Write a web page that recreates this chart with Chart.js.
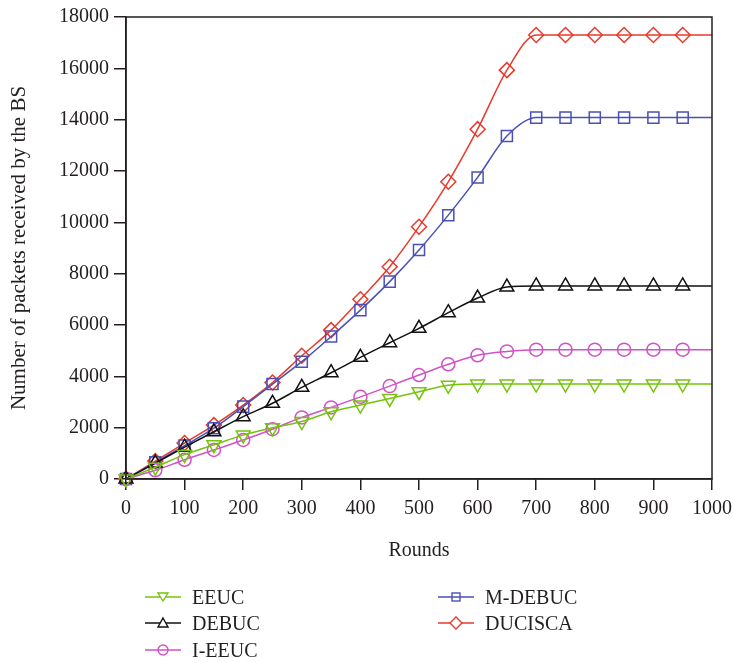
<!DOCTYPE html>
<html lang="en">
<head>
  <meta charset="UTF-8" />
  <title>Packets received by the BS</title>
  <script src="https://cdn.jsdelivr.net/npm/chart.js"></script>
  <style>
    body { margin: 0; background: #fff; }
    #wrap { position: relative; width: 733px; height: 663px; }
    #legend { position: absolute; left: 0; top: 0; width: 733px; height: 663px; pointer-events: none;
      font-family: "Liberation Serif", "DejaVu Serif", serif; font-size: 20px; color: #231f20; }
    .item { position: absolute; display: flex; align-items: center; height: 24px; }
    .item svg { margin-right: 11px; }
  </style>
</head>
<body>
  <div id="wrap">
    <canvas id="chart" width="733" height="663"></canvas>
    <div id="legend"></div>
  </div>

  <script>
    // x positions (rounds) and tick labels
    const rounds = [0, 50, 100, 150, 200, 250, 300, 350, 400, 450, 500, 550, 600, 650, 700, 750, 800, 850, 900, 950, 1000];
    const xTicks = [0, 100, 200, 300, 400, 500, 600, 700, 800, 900, 1000];
    const yTicks = [0, 2000, 4000, 6000, 8000, 10000, 12000, 14000, 16000, 18000];

    // series values
    const eeuc    = [0, 460, 950, 1330, 1710, 2000, 2240, 2620, 2880, 3140, 3400, 3650, 3700, 3700, 3700, 3700, 3700, 3700, 3700, 3700, 3700];
    const debuc   = [0, 620, 1240, 1840, 2430, 2950, 3570, 4140, 4740, 5310, 5870, 6480, 7050, 7480, 7520, 7520, 7520, 7520, 7520, 7520, 7520];
    const ieeuc   = [0, 340, 750, 1130, 1520, 1940, 2400, 2790, 3200, 3620, 4050, 4470, 4820, 4970, 5040, 5040, 5040, 5040, 5040, 5040, 5040];
    const mdebuc  = [0, 650, 1300, 1980, 2820, 3700, 4570, 5550, 6580, 7690, 8920, 10280, 11750, 13360, 14080, 14080, 14080, 14080, 14080, 14080, 14080];
    const ducisca = [0, 700, 1400, 2100, 2880, 3760, 4800, 5800, 7000, 8270, 9830, 11580, 13630, 15930, 17300, 17300, 17300, 17300, 17300, 17300, 17300];

    const font = "'Liberation Serif', 'DejaVu Serif', serif";
    const ink = '#231f20';

    const series = [
      { label: 'EEUC',    data: eeuc,    color: '#74c40c', style: 'triangle', rot: 180, r: 8 },
      { label: 'DEBUC',   data: debuc,   color: '#111111', style: 'triangle', rot: 0,   r: 8 },
      { label: 'I-EEUC',  data: ieeuc,   color: '#d052c6', style: 'circle',   rot: 0,   r: 6.5 },
      { label: 'M-DEBUC', data: mdebuc,  color: '#4a50b6', style: 'rect',     rot: 0,   r: 7.8 },
      { label: 'DUCISCA', data: ducisca, color: '#e83a2c', style: 'rectRot',  rot: 0,   r: 7.5 }
    ];

    const last = rounds.length - 1;
    const datasets = series.map(s => ({
      label: s.label,
      data: rounds.map((x, i) => ({ x: x, y: s.data[i] })),
      borderColor: s.color,
      backgroundColor: 'transparent',
      borderWidth: 1.5,
      pointStyle: s.style,
      pointRotation: s.rot,
      pointRadius: ctx => ctx.dataIndex === last ? 0 : s.r,
      pointBorderWidth: 1.5,
      pointBorderColor: s.color,
      pointBackgroundColor: 'transparent',
      cubicInterpolationMode: 'monotone',
      clip: false
    }));

    const frame = {
      id: 'frame',
      afterDraw(chart) {
        const a = chart.chartArea, c = chart.ctx;
        c.save();
        c.strokeStyle = ink;
        c.lineWidth = 1.5;
        c.strokeRect(a.left, a.top, a.right - a.left, a.bottom - a.top);
        c.restore();
      }
    };

    new Chart(document.getElementById('chart'), {
      type: 'line',
      data: { datasets: datasets },
      plugins: [frame],
      options: {
        responsive: false,
        animation: false,
        layout: { padding: { top: 17, right: 21, bottom: 96, left: 0 } },
        plugins: { legend: { display: false }, tooltip: { enabled: false } },
        scales: {
          x: {
            type: 'linear', min: 0, max: 1000,
            afterBuildTicks: s => { s.ticks = xTicks.map(v => ({ value: v })); },
            afterFit: s => { s.height = 88; s.paddingLeft = 0; s.paddingRight = 0; },
            grid: { drawOnChartArea: false, drawTicks: true, tickLength: 11, color: ink, lineWidth: 1.5 },
            border: { display: true, color: ink, width: 1.5 },
            ticks: { color: ink, font: { family: font, size: 20 }, padding: 7, maxRotation: 0, callback: v => v },
            title: { display: true, text: 'Rounds', color: ink, font: { family: font, size: 20 }, padding: { top: 0, bottom: 4 } }
          },
          y: {
            min: 0, max: 18000,
            afterBuildTicks: s => { s.ticks = yTicks.map(v => ({ value: v })); },
            afterFit: s => { s.width = 126; s.paddingTop = 0; s.paddingBottom = 0; },
            grid: { drawOnChartArea: false, drawTicks: true, tickLength: 12, color: ink, lineWidth: 1.5 },
            border: { display: true, color: ink, width: 1.5 },
            ticks: { color: ink, font: { family: font, size: 20 }, padding: 5, callback: v => v },
            title: { display: true, text: 'Number of packets received by the BS', color: ink, font: { family: font, size: 21 }, padding: { top: 7, bottom: 0 } }
          }
        }
      }
    });

    // legend in two columns below the plot
    const legendPos = [
      { left: 145, top: 585 }, { left: 145, top: 611 }, { left: 145, top: 638 },
      { left: 438, top: 585 }, { left: 438, top: 611 }
    ];

    function markerSvg(s) {
      const c = s.color;
      let shape = '';
      if (s.style === 'circle') shape = `<circle cx="18" cy="12" r="5" fill="none" stroke="${c}" stroke-width="1.4"/>`;
      else if (s.style === 'rect') shape = `<rect x="14" y="8" width="8" height="8" fill="none" stroke="${c}" stroke-width="1.4"/>`;
      else if (s.style === 'rectRot') shape = `<polygon points="18,6 24,12 18,18 12,12" fill="white" stroke="${c}" stroke-width="1.4"/>`;
      else if (s.rot === 180) shape = `<polygon points="13,8 23,8 18,16" fill="white" stroke="${c}" stroke-width="1.4"/>`;
      else shape = `<polygon points="18,7 23,16 13,16" fill="white" stroke="${c}" stroke-width="1.4"/>`;
      return `<svg width="36" height="24"><line x1="0" y1="12" x2="36" y2="12" stroke="${c}" stroke-width="1.5"/>${shape}</svg>`;
    }

    const legend = document.getElementById('legend');
    series.forEach((s, i) => {
      const el = document.createElement('div');
      el.className = 'item';
      el.style.left = legendPos[i].left + 'px';
      el.style.top = legendPos[i].top + 'px';
      el.innerHTML = markerSvg(s) + '<span>' + s.label + '</span>';
      legend.appendChild(el);
    });
  </script>
</body>
</html>
